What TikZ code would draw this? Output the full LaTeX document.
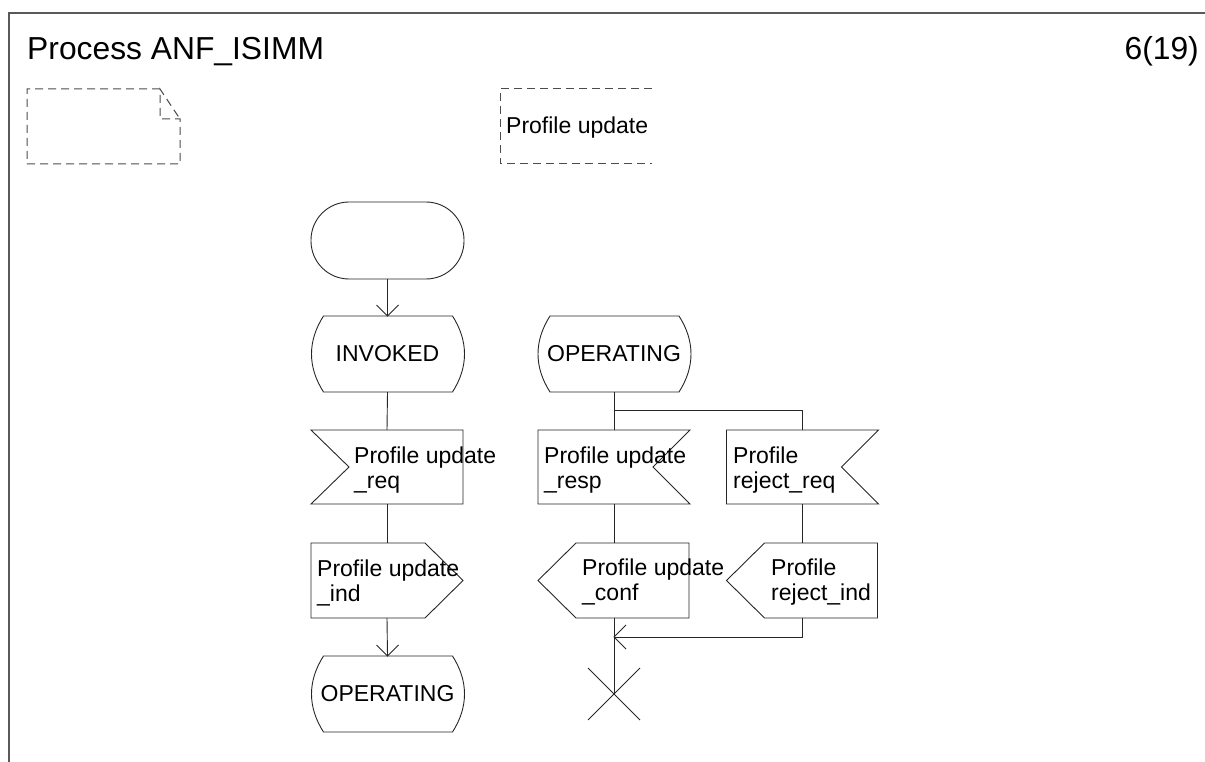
\documentclass[tikz,border=0pt]{standalone}
\usepackage{fontspec}
\setmainfont{Liberation Sans}
\newcommand\sdlstate[4]{%
  \begin{scope}[shift={(#2,#3)}]
    \draw[sdl] (-64,-38) -- (65,-38) .. controls (81,-13) and (81,13) .. (65,38)
      -- (-64,38) .. controls (-80,13) and (-80,-13) .. (-64,-38) -- cycle;
    \node[lbl, anchor=center] (#1) at (0,0) {#4};
    \coordinate (#1-n) at (0,-38);
    \coordinate (#1-s) at (0,38);
  \end{scope}}
\newcommand\sdlinl[3]{% input, notch on the left
  \begin{scope}[shift={(#2,#3)}]
    \draw[sdl] (-76,-37) -- (76,-37) -- (76,37) -- (-76,37) -- (-38,0) -- cycle;
    \coordinate (#1-n) at (0,-37);
    \coordinate (#1-s) at (0,37);
  \end{scope}}
\newcommand\sdlinr[3]{% input, notch on the right
  \begin{scope}[shift={(#2,#3)}]
    \draw[sdl] (-76,-37) -- (76,-37) -- (39,0) -- (76,37) -- (-76,37) -- cycle;
    \coordinate (#1-n) at (0,-37);
    \coordinate (#1-s) at (0,37);
  \end{scope}}
\newcommand\sdloutr[3]{% output pointing right
  \begin{scope}[shift={(#2,#3)}]
    \draw[sdl] (-76,-37.5) -- (38,-37.5) -- (76,0) -- (38,37.5) -- (-76,37.5) -- cycle;
    \coordinate (#1-n) at (0,-37.5);
    \coordinate (#1-s) at (0,37.5);
  \end{scope}}
\newcommand\sdloutl[3]{% output pointing left
  \begin{scope}[shift={(#2,#3)}]
    \draw[sdl] (75,-37.5) -- (-38,-37.5) -- (-76,0) -- (-38,37.5) -- (75,37.5) -- cycle;
    \coordinate (#1-n) at (0,-37.5);
    \coordinate (#1-s) at (0,37.5);
  \end{scope}}
\begin{document}
\begin{tikzpicture}[x=1pt,y=-1pt,
  sdl/.style={draw=black!85, line width=0.9pt},
  flow/.style={draw=black!85, line width=0.9pt},
  cmt/.style={draw=black!70, line width=1pt, dash pattern=on 8pt off 5pt},
  lbl/.style={font=\fontsize{23}{25}\selectfont, inner sep=0pt, align=left},
  sig/.style={lbl, anchor=base west}
]
\useasboundingbox (0,0) rectangle (1205,762);
% frame
\draw[draw=black!65, line width=1.6pt] (9,762) -- (9,13) -- (1205,13);
\node[font=\fontsize{31.8}{36}\selectfont, anchor=base west, inner sep=0pt] (title) at (27,60) {Process ANF\_ISIMM};
\node[font=\fontsize{31.8}{36}\selectfont, anchor=base east, inner sep=0pt] (page) at (1199,60) {6(19)};
% comment symbol
\draw[cmt] (160,89) -- (27,89) -- (27,164) -- (180,164) -- (180,119) -- (160,119) -- (160,89) -- (180,119);
% text annotation
\draw[cmt] (652,89) -- (500,89) -- (500,164) -- (652,164);
\node[sig] (anno) at (506,134) {Profile update};
% start
\node[draw=black!85, line width=0.9pt, minimum width=153pt, minimum height=77pt, rounded corners=38pt, inner sep=0pt] (start) at (387.5,240.5) {};
% left column
\sdlstate{invoked}{387.5}{354}{INVOKED}
\sdlinl{req}{387}{467}
\node[sig] (reqt) at (354,488) {Profile update\\\_req};
\sdloutr{ind}{387}{580.5}
\node[sig] (indt) at (317,601) {Profile update\\\_ind};
\sdlstate{opa}{387.5}{694}{OPERATING}
% middle / right columns
\sdlstate{opb}{614}{354}{OPERATING}
\sdlinr{resp}{614}{467}
\node[sig] (respt) at (544,488) {Profile update\\\_resp};
\sdlinr{rreq}{802.5}{467}
\node[sig] (rreqt) at (733,488) {Profile\\reject\_req};
\sdloutl{conf}{614}{580.5}
\node[sig] (conft) at (582,600) {Profile update\\\_conf};
\sdloutl{rind}{802.5}{580.5}
\node[sig] (rindt) at (771,600) {Profile\\reject\_ind};
\coordinate (branch) at (614,410);
\coordinate (join) at (614,637);
\coordinate (stop) at (614,694);
% connectors
\draw[flow] (start.south) -- (invoked-n);
\draw[flow] (invoked-n) ++(-11,-11) -- (invoked-n) -- ++(11,-11);
\draw[flow] (invoked-s) -- (req-n);
\draw[flow] (req-s) -- (ind-n);
\draw[flow] (ind-s) -- (opa-n);
\draw[flow] (opa-n) ++(-11,-11) -- (opa-n) -- ++(11,-11);
\draw[flow] (opb-s) -- (resp-n);
\draw[flow] (branch) -| (rreq-n);
\draw[flow] (resp-s) -- (conf-n);
\draw[flow] (rreq-s) -- (rind-n);
\draw[flow] (conf-s) -- (stop);
\draw[flow] (rind-s) |- (join);
\draw[flow] (join) ++(12,-12) -- (join) -- ++(12,12);
% stop symbol
\draw[flow] (588,668) -- (640,720);
\draw[flow] (588,720) -- (640,668);
\end{tikzpicture}
\end{document}
